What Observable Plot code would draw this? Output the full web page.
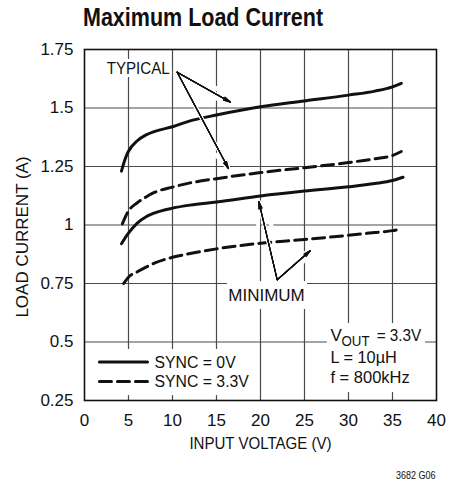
<!DOCTYPE html>
<html>
<head>
<meta charset="utf-8">
<script src="https://cdn.jsdelivr.net/npm/d3@7"></script>
<script src="https://cdn.jsdelivr.net/npm/@observablehq/plot@0.6"></script>
<style>
  body { margin: 0; background: #fff; }
  #wrap { position: relative; width: 461px; height: 485px; }
  #title { position: absolute; left: 83px; top: 5px; font: bold 25px/25px "Liberation Sans", Arial, sans-serif; color: #111; white-space: nowrap; z-index: 2; transform: scaleX(0.86); transform-origin: 0 0; }
  #chart { position: absolute; left: 0; top: 0; }
</style>
</head>
<body>
<div id="wrap">
  <div id="title">Maximum Load Current</div>
  <div id="chart"></div>
</div>
<script>
// ---- axis ticks / labels ----
const xTicks = [0, 5, 10, 15, 20, 25, 30, 35, 40];
const yTicks = [0.25, 0.5, 0.75, 1, 1.25, 1.5, 1.75];
const yTickLabels = ["0.25", "0.5", "0.75", "1", "1.25", "1.5", "1.75"];
const xGrid = [5, 10, 15, 20, 25, 30, 35];
const yGrid = [0.5, 0.75, 1, 1.25, 1.5];
const xLabel = "INPUT VOLTAGE (V)";
const yLabel = "LOAD CURRENT (A)";
const figureCode = "3682 G06";

// ---- series: [input voltage (V), load current (A)] ----
const typicalSync0V = [[4.2,1.23],[4.6,1.28],[5,1.315],[6,1.36],[7,1.385],[8,1.40],[10,1.42],[12,1.445],[15,1.47],[20,1.505],[25,1.53],[30,1.555],[33,1.572],[35,1.59],[36,1.605]];
const typicalSync33V = [[4.3,1.005],[5,1.06],[6,1.095],[7,1.12],[8,1.14],[10,1.162],[12,1.18],[15,1.198],[20,1.224],[25,1.245],[30,1.267],[33,1.283],[35,1.297],[36,1.314]];
const minimumSync0V = [[4.2,0.92],[5,0.965],[6,1.008],[7,1.035],[8,1.052],[10,1.072],[12,1.085],[15,1.098],[20,1.124],[25,1.145],[30,1.163],[33,1.177],[35,1.19],[36.2,1.204]];
const minimumSync33V = [[4.45,0.75],[5,0.777],[6,0.80],[7,0.82],[8,0.838],[10,0.862],[12,0.878],[15,0.898],[20,0.922],[25,0.938],[30,0.956],[33,0.968],[35,0.976],[35.8,0.982]];

// ---- annotations (data units) ----
const typicalLabel = [{x: 6.1, y: 1.667, text: "TYPICAL"}];
const typicalArrows = [
  {x1: 10.53, y1: 1.653, x2: 16.59, y2: 1.525},
  {x1: 10.53, y1: 1.653, x2: 16.36, y2: 1.241}
];
const minimumLabel = [{x: 20.68, y: 0.699, text: "MINIMUM"}];
const minimumBox = [{x1: 16.25, x2: 25.34, y1: 0.639, y2: 0.758}];
const minimumArrows = [
  {x1: 21.9, y1: 0.766, x2: 19.81, y2: 1.100},
  {x1: 21.9, y1: 0.766, x2: 25.68, y2: 0.891}
];

// ---- legend ----
const legendBox = [{x1: 0.3, x2: 18.9, y1: 0.271, y2: 0.468}];
const legendLabels = ["SYNC = 0V", "SYNC = 3.3V"];
const legendRowY = [0.414, 0.331];
const legendSampleX = [1.7, 7.16];
const legendTextX = 7.95;

// ---- conditions ----
const condBox = [{x1: 27.6, x2: 38.75, y1: 0.284, y2: 0.579}];
const condX = 27.95;
const condLines = [
  {y: 0.528, text: "V"},
  {y: 0.432, text: "L = 10µH"},
  {y: 0.346, text: "f = 800kHz"}
];
const condSub = [{x: 29.2, y: 0.503, text: "OUT"}];
const condRest = [{x: 33.2, y: 0.528, text: "= 3.3V"}];

const FONT = '"Liberation Sans", Arial, sans-serif';
const fx = d => d[0], fy = d => d[1];
const legendSolid = legendSampleX.map(x => [x, legendRowY[0]]);
const legendDashed = legendSampleX.map(x => [x, legendRowY[1]]);
const allArrows = typicalArrows.concat(minimumArrows);
const arrowOpts = {x1: "x1", y1: "y1", x2: "x2", y2: "y2", headLength: 10};

const chart = Plot.plot({
  width: 461,
  height: 485,
  marginLeft: 84,
  marginRight: 25,
  marginTop: 49,
  marginBottom: 85,
  x: {domain: [0, 40]},
  y: {domain: [0.25, 1.75]},
  style: {fontFamily: FONT, fontSize: "17px", color: "#111", background: "white"},
  marks: [
    Plot.ruleX(xGrid, {stroke: "#4a4a4a", strokeWidth: 1.2}),
    Plot.ruleY(yGrid, {stroke: "#4a4a4a", strokeWidth: 1.2}),
    Plot.rect(legendBox, {x1: "x1", x2: "x2", y1: "y1", y2: "y2", fill: "white"}),
    Plot.rect(condBox, {x1: "x1", x2: "x2", y1: "y1", y2: "y2", fill: "white"}),
    Plot.rect(minimumBox, {x1: "x1", x2: "x2", y1: "y1", y2: "y2", fill: "white"}),
    Plot.line(typicalSync0V, {x: fx, y: fy, stroke: "#111", strokeWidth: 3, curve: "monotone-x"}),
    Plot.line(typicalSync33V, {x: fx, y: fy, stroke: "#111", strokeWidth: 3, strokeDasharray: "12,6", curve: "monotone-x"}),
    Plot.line(minimumSync0V, {x: fx, y: fy, stroke: "#111", strokeWidth: 3, curve: "monotone-x"}),
    Plot.line(minimumSync33V, {x: fx, y: fy, stroke: "#111", strokeWidth: 3, strokeDasharray: "12,6", curve: "monotone-x"}),
    Plot.arrow(allArrows, {...arrowOpts, stroke: "white", strokeWidth: 4, headAngle: 30}),
    ...[28, 21, 14, 7, 1].map(a => Plot.arrow(allArrows, {...arrowOpts, stroke: "#111", strokeWidth: 1.1, headAngle: a})),
    Plot.frame({stroke: "#111", strokeWidth: 1.6}),
    Plot.axisX({ticks: xTicks, tickSize: 0, tickPadding: 13, label: null, fontSize: 17}),
    Plot.axisY({ticks: yTicks, tickFormat: d => yTickLabels[yTicks.indexOf(d)], tickSize: 0, tickPadding: 11, label: null, fontSize: 17}),
    Plot.text([xLabel], {frameAnchor: "bottom", textAnchor: "middle", dy: 48, fontSize: 17, fill: "#111"}),
    Plot.text([yLabel], {frameAnchor: "left", textAnchor: "middle", rotate: -90, dx: -62, dy: 12, fontSize: 17, fill: "#111"}),
    Plot.text([figureCode], {frameAnchor: "bottom-right", textAnchor: "end", dx: -1, dy: 78, fontSize: 11, fill: "#111"}),
    Plot.text(typicalLabel, {x: "x", y: "y", text: "text", fontSize: 17, fill: "#111", stroke: "white", strokeWidth: 6}),
    Plot.text(minimumLabel, {x: "x", y: "y", text: "text", fontSize: 17, fill: "#111"}),
    Plot.line(legendSolid, {x: fx, y: fy, stroke: "#111", strokeWidth: 3}),
    Plot.line(legendDashed, {x: fx, y: fy, stroke: "#111", strokeWidth: 3, strokeDasharray: "12,6"}),
    Plot.text(legendLabels, {x: legendTextX, y: (d, i) => legendRowY[i], text: d => d, textAnchor: "start", fontSize: 17, fill: "#111"}),
    Plot.text(condLines, {x: condX, y: "y", text: "text", textAnchor: "start", fontSize: 17, fill: "#111"}),
    Plot.text(condSub, {x: "x", y: "y", text: "text", textAnchor: "start", fontSize: 14, fill: "#111"}),
    Plot.text(condRest, {x: "x", y: "y", text: "text", textAnchor: "start", fontSize: 17, fill: "#111"})
  ]
});

// horizontal condensing of some labels to match the narrow typeface of the original
const condense = new Map([
  ["INPUT VOLTAGE (V)", 0.887], ["TYPICAL", 0.89], ["SYNC = 0V", 0.93], ["SYNC = 3.3V", 0.93],
  ["L = 10µH", 0.96], ["f = 800kHz", 0.97], ["= 3.3V", 0.9], ["OUT", 0.95], ["3682 G06", 0.82]
]);
chart.querySelectorAll("text").forEach(el => {
  const s = condense.get(el.textContent.trim());
  if (!s) return;
  const t = el.getAttribute("transform");
  if (t) el.setAttribute("transform", t + ` scale(${s},1)`);
  else {
    const x = +el.getAttribute("x") || 0, y = +el.getAttribute("y") || 0;
    el.setAttribute("transform", `translate(${x},${y}) scale(${s},1) translate(${-x},${-y})`);
  }
});
document.getElementById("chart").appendChild(chart);
</script>
</body>
</html>
